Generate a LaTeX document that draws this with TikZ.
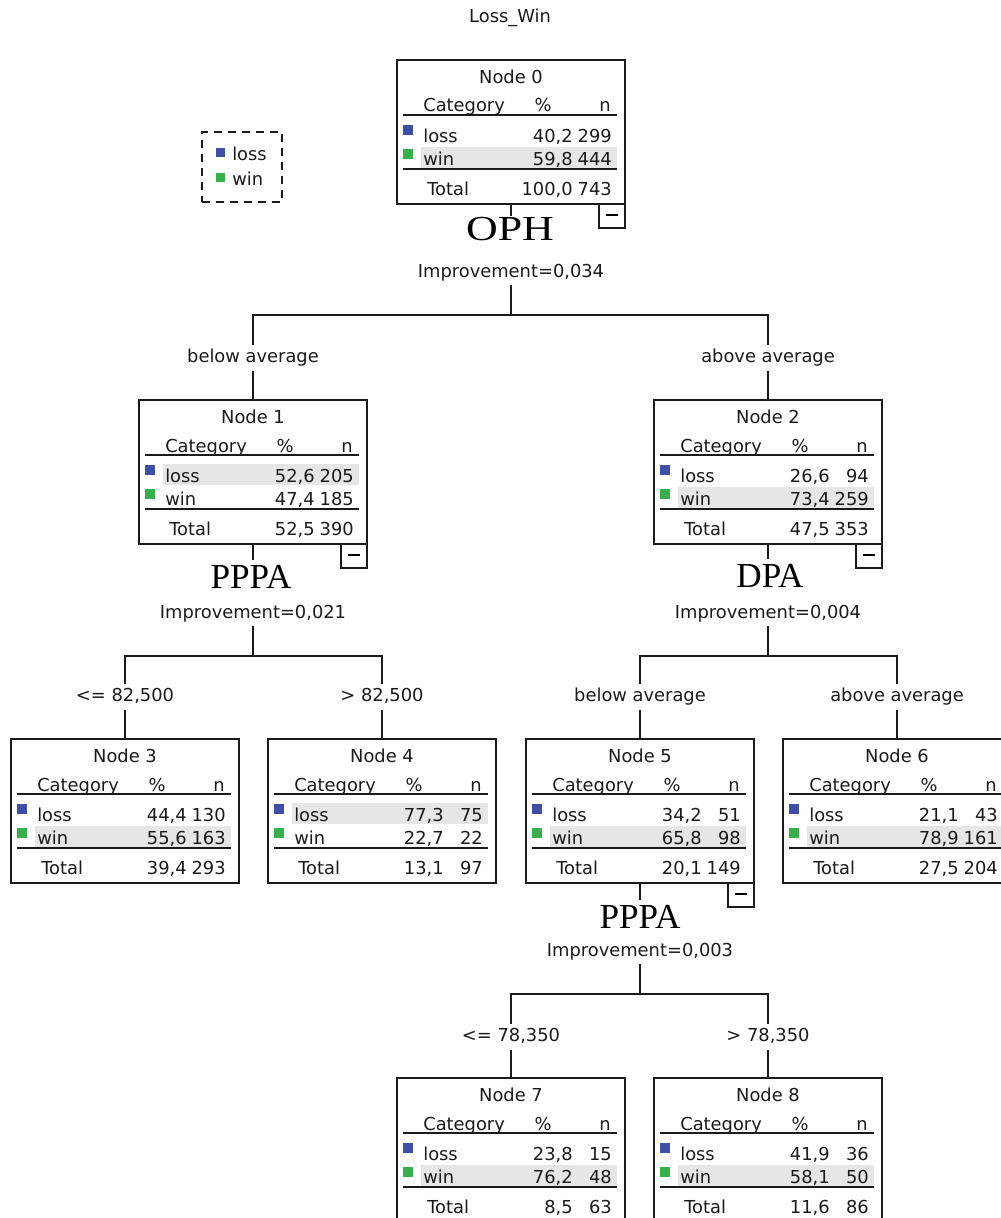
\documentclass[tikz,border=0pt]{standalone}
\usepackage{fontspec}
\setmainfont{DejaVu Sans}
\newfontfamily\splitserif{Liberation Serif}
\newfontfamily\splitwide[FakeStretch=1.25]{Liberation Serif}
\usepackage{xcolor}
\usepackage{tikz}
\usetikzlibrary{positioning,calc}
\definecolor{ink}{HTML}{1A1A1A}
\definecolor{catblue}{HTML}{3D4FA6}
\definecolor{catgreen}{HTML}{35B04A}
\definecolor{bandgrey}{HTML}{E6E6E6}
\tikzset{
  treebox/.style={rectangle, draw=ink, line width=0.45mm,
    minimum width=57mm, minimum height=36mm,
    inner sep=0pt, outer sep=0pt, anchor=north west},
  celltext/.style={font=\fontsize{12.7}{15}\selectfont, text=ink,
    inner sep=0pt},
  rowline/.style={draw=ink, line width=0.6mm},
  collapse/.style={rectangle, draw=ink, line width=0.45mm,
    minimum width=6.5mm, minimum height=6mm,
    inner sep=0pt, outer sep=0pt, anchor=north east},
  splitvar/.style={font=\splitserif\fontsize{25}{30}\selectfont,
    text=black, inner xsep=1mm, inner ysep=1.2mm},
  improve/.style={celltext, inner ysep=0.9mm},
  branchlabel/.style={celltext, text height=9.5pt, text depth=3pt,
    inner ysep=1mm},
  treeedge/.style={draw=ink, line width=0.45mm},
  legendbox/.style={rectangle, draw=ink, line width=0.5mm,
    dash pattern=on 2mm off 1.5mm,
    minimum width=20mm, minimum height=17.5mm},
}

\begin{document}
\begin{tikzpicture}[x=0.25mm, y=-0.25mm]
\clip (0,0) rectangle (1001,1218);

\node[celltext] (title) at (510,18) {Loss\_Win};

% legend
\node[legendbox] (legend) at (242,167) {};
\fill[catblue] (216,148) rectangle (225,157);
\node[celltext, anchor=west] (leg-loss) at (232,154) {loss};
\fill[catgreen] (216,173) rectangle (225,182);
\node[celltext, anchor=west] (leg-win) at (232,179) {win};

% node tables: id / left / top / loss % / loss n / win % / win n / total % / total n / band top
\foreach \k/\bx/\by/\lossp/\lossn/\winp/\winn/\totp/\totn/\hy in {
  0/397/60/{40,2}/299/{59,8}/444/{100,0}/743/87,
  1/139/400/{52,6}/205/{47,4}/185/{52,5}/390/64,
  2/654/400/{26,6}/94/{73,4}/259/{47,5}/353/87,
  3/11/739/{44,4}/130/{55,6}/163/{39,4}/293/87,
  4/268/739/{77,3}/75/{22,7}/22/{13,1}/97/64,
  5/526/739/{34,2}/51/{65,8}/98/{20,1}/149/87,
  6/783/739/{21,1}/43/{78,9}/161/{27,5}/204/87,
  7/397/1078/{23,8}/15/{76,2}/48/{8,5}/63/87,
  8/654/1078/{41,9}/36/{58,1}/50/{11,6}/86/87}{
  \begin{scope}[shift={(\bx,\by)}]
    \fill[bandgrey] (24,\hy) rectangle (220,\hy+21);
    \node[treebox] (n\k) at (0,0) {};
    \node[celltext, anchor=base] (n\k-head) at (114,23.5) {Node \k};
    \node[celltext, anchor=base west] (n\k-cat) at (26,52) {Category};
    \node[celltext, anchor=base] (n\k-pc) at (146,52) {\%};
    \node[celltext, anchor=base east] (n\k-n) at (214,52) {n};
    \draw[rowline] (6,55) -- (220,55);
    \fill[catblue] (6,65) rectangle (16,75);
    \node[celltext, anchor=base west] (n\k-loss) at (26,82) {loss};
    \node[celltext, anchor=base east] (n\k-lp) at (176,82) {\lossp};
    \node[celltext, anchor=base east] (n\k-ln) at (215,82) {\lossn};
    \fill[catgreen] (6,89) rectangle (16,99);
    \node[celltext, anchor=base west] (n\k-win) at (26,105) {win};
    \node[celltext, anchor=base east] (n\k-wp) at (176,105) {\winp};
    \node[celltext, anchor=base east] (n\k-wn) at (215,105) {\winn};
    \draw[rowline] (6,109) -- (220,109);
    \node[celltext, anchor=base west] (n\k-tot) at (30,135) {Total};
    \node[celltext, anchor=base east] (n\k-tp) at (176,135) {\totp};
    \node[celltext, anchor=base east] (n\k-tn) at (215,135) {\totn};
  \end{scope}
}

% collapse buttons
\foreach \k in {0,1,2,5}
  \node[collapse] (c\k) at (n\k.south east) {\rule[0.6mm]{2.8mm}{0.45mm}};

% split variables and improvements
\node[splitvar, inner ysep=0.3mm, font=\splitwide\fontsize{25}{30}\selectfont] (s0) at (510,229) {OPH};
\node[splitvar] (s1) at (251,577) {PPPA};
\node[splitvar] (s2) at (770,576) {DPA};
\node[splitvar] (s5) at (640,917) {PPPA};
\node[improve] (i0) at (511,273) {Improvement=0,034};
\node[improve] (i1) at (253,614) {Improvement=0,021};
\node[improve] (i2) at (768,614) {Improvement=0,004};
\node[improve] (i5) at (640,952) {Improvement=0,003};
\coordinate (j0) at (511,315);
\coordinate (j1) at (253,656);
\coordinate (j2) at (768,656);
\coordinate (j5) at (640,994);

% branch labels
\node[branchlabel] (b1) at (253,358) {below average};
\node[branchlabel] (b2) at (768,358) {above average};
\node[branchlabel] (b3) at (125,697) {<= 82,500};
\node[branchlabel] (b4) at (382,697) {> 82,500};
\node[branchlabel] (b5) at (640,697) {below average};
\node[branchlabel] (b6) at (897,697) {above average};
\node[branchlabel] (b7) at (511,1037) {<= 78,350};
\node[branchlabel] (b8) at (768,1037) {> 78,350};

% connectors
\foreach \p/\l/\r in {0/1/2, 1/3/4, 2/5/6, 5/7/8} {
  \draw[treeedge] (n\p.south) -- (n\p.south |- s\p.north);
  \draw[treeedge] (i\p.south) -- (j\p);
  \draw[treeedge] (b\l.north) |- (j\p) -| (b\r.north);
  \draw[treeedge] (b\l.south) -- (n\l.north);
  \draw[treeedge] (b\r.south) -- (n\r.north);
}
\end{tikzpicture}
\end{document}
